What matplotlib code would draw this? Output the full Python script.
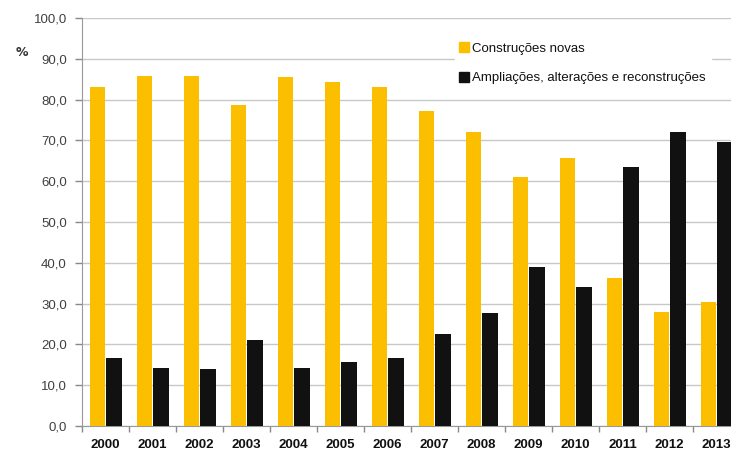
import matplotlib
matplotlib.use("Agg")
import matplotlib.pyplot as plt
from matplotlib.lines import Line2D
import numpy as np

years = ["2000", "2001", "2002", "2003", "2004", "2005", "2006",
         "2007", "2008", "2009", "2010", "2011", "2012", "2013"]
novas = [83.1, 85.8, 85.8, 78.7, 85.5, 84.3, 83.1,
         77.2, 72.1, 61.0, 65.7, 36.3, 27.9, 30.4]
ampliacoes = [16.7, 14.2, 14.0, 21.1, 14.2, 15.7, 16.7,
              22.5, 27.7, 39.0, 34.1, 63.5, 72.1, 69.6]
yticks = np.arange(0, 101, 10)
series_names = ["Construções novas", "Ampliações, alterações e reconstruções"]

YELLOW = "#fcbf00"
BLACK = "#111111"

fig = plt.figure(figsize=(7.31, 4.54), dpi=100)
ax = fig.add_axes([82 / 731, 28 / 454, 658 / 731, 408 / 454])

x = np.arange(len(years))
w = 0.33
ax.bar(x - 0.175, novas, width=w, color=YELLOW, zorder=3)
ax.bar(x + 0.185, ampliacoes, width=w, color=BLACK, zorder=3)

ax.set_xlim(-0.5, len(years) - 0.5)
ax.set_ylim(0, 100)
ax.set_yticks(yticks)
ax.set_yticklabels([f"{v:.1f}".replace(".", ",") for v in yticks],
                   fontsize=9.5, color="#404040", family="Liberation Sans")
ax.yaxis.grid(True, color="#c8c8c8", linewidth=1.0, zorder=0)

ax.set_xticks(x)
ax.set_xticklabels(years, fontsize=9.5, fontweight="bold", color="#111111",
                   family="Liberation Sans")
# keep the last year label inside the canvas
ax.get_xticklabels()[-1].set_x(len(years) - 1.06)
ax.set_xticks(np.arange(-0.5, len(years)), minor=True)
ax.tick_params(axis="x", which="major", length=0, pad=9)
ax.tick_params(axis="x", which="minor", length=4, color="#888888", width=1)
ax.tick_params(axis="y", length=5, color="#888888", width=1, pad=6)

for s in ["top", "right"]:
    ax.spines[s].set_visible(False)
ax.spines["left"].set_color("#999999")
ax.spines["bottom"].set_color("#999999")

fig.text(22 / 731, 1 - 52 / 454, "%", fontsize=9, fontweight="bold",
         color="#333333", ha="center", va="center")

handles = [Line2D([], [], marker="s", linestyle="none", markersize=7,
                  markerfacecolor=YELLOW, markeredgecolor=YELLOW),
           Line2D([], [], marker="s", linestyle="none", markersize=7,
                  markerfacecolor=BLACK, markeredgecolor=BLACK)]
leg = ax.legend(handles, series_names, loc="upper left",
                bbox_to_anchor=(448 / 731, 1 - 31 / 454),
                bbox_transform=fig.transFigure,
                frameon=True, framealpha=1, edgecolor="white",
                facecolor="white", fancybox=False,
                handlelength=0.7, handletextpad=0.2, labelspacing=1.3,
                borderpad=0.4,
                prop={"family": "Liberation Sans", "size": 9.5})
for t in leg.get_texts():
    t.set_color("#111111")

fig.savefig("out.png", dpi=100, facecolor="white")
